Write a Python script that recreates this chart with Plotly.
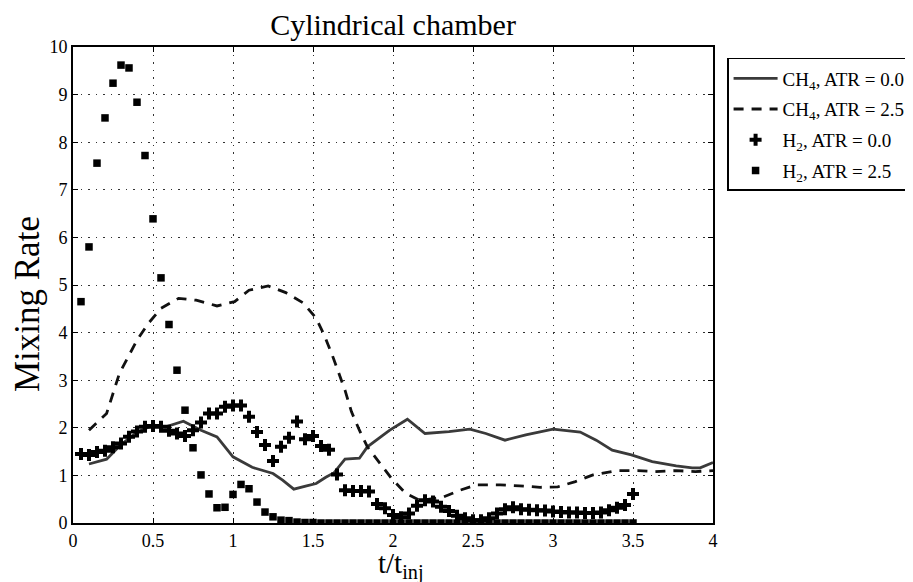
import plotly.graph_objects as go

# ---- data ----
h2_x = [0.05, 0.10, 0.15, 0.20, 0.25, 0.30, 0.35, 0.40, 0.45, 0.50,
        0.55, 0.60, 0.65, 0.70, 0.75, 0.80, 0.85, 0.90, 0.95, 1.00,
        1.05, 1.10, 1.15, 1.20, 1.25, 1.30, 1.35, 1.40, 1.45, 1.50,
        1.55, 1.60, 1.65, 1.70, 1.75, 1.80, 1.85, 1.90, 1.95, 2.00,
        2.05, 2.10, 2.15, 2.20, 2.25, 2.30, 2.35, 2.40, 2.45, 2.50,
        2.55, 2.60, 2.65, 2.70, 2.75, 2.80, 2.85, 2.90, 2.95, 3.00,
        3.05, 3.10, 3.15, 3.20, 3.25, 3.30, 3.35, 3.40, 3.45, 3.50]

h2_atr00 = [1.45, 1.43, 1.49, 1.52, 1.59, 1.67, 1.81, 1.92, 2.02, 2.04,
            2.02, 1.94, 1.88, 1.83, 1.95, 2.11, 2.30, 2.30, 2.44, 2.47,
            2.47, 2.23, 1.91, 1.64, 1.30, 1.60, 1.79, 2.13, 1.76, 1.83,
            1.62, 1.54, 1.02, 0.69, 0.67, 0.67, 0.66, 0.40, 0.31, 0.17,
            0.12, 0.20, 0.36, 0.48, 0.45, 0.34, 0.25, 0.15, 0.10, 0.06,
            0.06, 0.10, 0.20, 0.29, 0.33, 0.29, 0.28, 0.27, 0.26, 0.24,
            0.23, 0.22, 0.22, 0.21, 0.21, 0.22, 0.27, 0.32, 0.38, 0.61]

h2_atr25 = [4.65, 5.80, 7.56, 8.51, 9.24, 9.62, 9.56, 8.84, 7.72, 6.39,
            5.15, 4.17, 3.21, 2.37, 1.58, 1.01, 0.61, 0.32, 0.33, 0.60,
            0.81, 0.72, 0.44, 0.23, 0.13, 0.06, 0.05, 0.02, 0.01, 0.01,
            0.0, 0.0, 0.0, 0.0, 0.0, 0.0, 0.0, 0.0, 0.0, 0.0,
            0.0, 0.0, 0.0, 0.0, 0.0, 0.0, 0.0, 0.0, 0.0, 0.0,
            0.0, 0.0, 0.0, 0.0, 0.0, 0.0, 0.0, 0.0, 0.0, 0.0,
            0.0, 0.0, 0.0, 0.0, 0.0, 0.0, 0.0, 0.0, 0.0, 0.0]

ch4_atr00_x = [0.10, 0.21, 0.30, 0.40, 0.50, 0.58, 0.69, 0.80, 0.90, 1.00,
               1.12, 1.25, 1.31, 1.38, 1.46, 1.52, 1.58, 1.63, 1.70, 1.79,
               1.84, 1.98, 2.09, 2.20, 2.35, 2.48, 2.58, 2.70, 2.83, 3.00,
               3.17, 3.27, 3.37, 3.49, 3.62, 3.77, 3.87, 3.92, 4.00]
ch4_atr00_y = [1.24, 1.34, 1.65, 1.90, 2.06, 2.02, 2.14, 1.95, 1.81, 1.39,
               1.17, 1.04, 0.90, 0.71, 0.78, 0.83, 0.96, 1.05, 1.34, 1.36,
               1.60, 1.95, 2.18, 1.88, 1.92, 1.97, 1.88, 1.74, 1.85, 1.97,
               1.91, 1.74, 1.53, 1.43, 1.29, 1.20, 1.16, 1.16, 1.27]

ch4_atr25_x = [0.10, 0.21, 0.25, 0.29, 0.34, 0.40, 0.47, 0.55, 0.66, 0.77,
               0.90, 1.01, 1.10, 1.22, 1.33, 1.44, 1.52, 1.57, 1.62, 1.66,
               1.70, 1.74, 1.79, 1.84, 1.92, 1.99, 2.08, 2.17, 2.31, 2.42,
               2.52, 2.67, 2.79, 2.92, 3.03, 3.14, 3.25, 3.40, 3.53, 3.64,
               3.77, 3.89, 4.00]
ch4_atr25_y = [1.95, 2.30, 2.72, 3.14, 3.46, 3.84, 4.19, 4.51, 4.72, 4.68,
               4.56, 4.65, 4.89, 4.98, 4.84, 4.62, 4.30, 3.95, 3.53, 3.14,
               2.79, 2.34, 1.95, 1.60, 1.25, 0.94, 0.62, 0.47, 0.54, 0.69,
               0.80, 0.80, 0.78, 0.75, 0.76, 0.87, 1.01, 1.10, 1.10, 1.08,
               1.10, 1.08, 1.10]

x_ticks = [0, 0.5, 1, 1.5, 2, 2.5, 3, 3.5, 4]
x_tick_text = ["0", "0.5", "1", "1.5", "2", "2.5", "3", "3.5", "4"]
y_ticks = [0, 1, 2, 3, 4, 5, 6, 7, 8, 9, 10]

FONT = "Liberation Serif, Times New Roman, serif"

fig = go.Figure()
fig.add_trace(go.Scatter(x=ch4_atr00_x, y=ch4_atr00_y, mode="lines",
                         name="CH<sub>4</sub>, ATR = 0.0", legendgroup="a",
                         line=dict(color="#3a3a3a", width=2.8)))
fig.add_trace(go.Scatter(x=ch4_atr25_x, y=ch4_atr25_y, mode="lines",
                         name="CH<sub>4</sub>, ATR = 2.5", legendgroup="b",
                         line=dict(color="#111111", width=2.8, dash="10px,8px")))
fig.add_trace(go.Scatter(x=h2_x, y=h2_atr00, mode="markers",
                         name="H<sub>2</sub>, ATR = 0.0", legendgroup="c",
                         marker=dict(symbol="cross", size=10, color="black")))
fig.add_trace(go.Scatter(x=h2_x, y=h2_atr25, mode="markers",
                         name="H<sub>2</sub>, ATR = 2.5", legendgroup="d",
                         marker=dict(symbol="square", size=7.5, color="black")))

axis_common = dict(showline=True, linecolor="black", linewidth=2, mirror="ticks",
                   ticks="inside", ticklen=5, tickcolor="black",
                   showgrid=True, gridcolor="#333333", griddash="1.5px,6px", gridwidth=1,
                   zeroline=False, tickfont=dict(family=FONT, size=18, color="black"))

fig.update_layout(
    width=905, height=574,
    margin=dict(l=65, r=200, t=39, b=59, autoexpand=False),
    paper_bgcolor="white", plot_bgcolor="white",
    title=dict(text="Cylindrical chamber", x=0.5, xref="paper", xanchor="center",
               y=0.972, yanchor="middle",
               font=dict(family=FONT, size=30, color="black")),
    xaxis=dict(range=[0, 4], tickvals=x_ticks, ticktext=x_tick_text, **axis_common),
    yaxis=dict(range=[0, 10], tickvals=y_ticks, **axis_common),
    annotations=[
        dict(text="t/t<sub>inj</sub>", xref="paper", yref="paper", x=0.5, y=0,
             xanchor="center", yanchor="middle", yshift=-42, xshift=8, showarrow=False,
             font=dict(family=FONT, size=29, color="black")),
        dict(text="Mixing Rate", xref="paper", yref="paper", x=0, y=0.46,
             xanchor="center", yanchor="middle", xshift=-46, textangle=-90,
             showarrow=False, font=dict(family=FONT, size=35, color="black")),
    ],
    legend=dict(x=1.022, y=0.977, xanchor="left", yanchor="top",
                bordercolor="black", borderwidth=1.5, bgcolor="white",
                font=dict(family=FONT, size=19, color="black"),
                tracegroupgap=3, itemwidth=44),
    showlegend=True,
)

fig.write_html("out.html")
